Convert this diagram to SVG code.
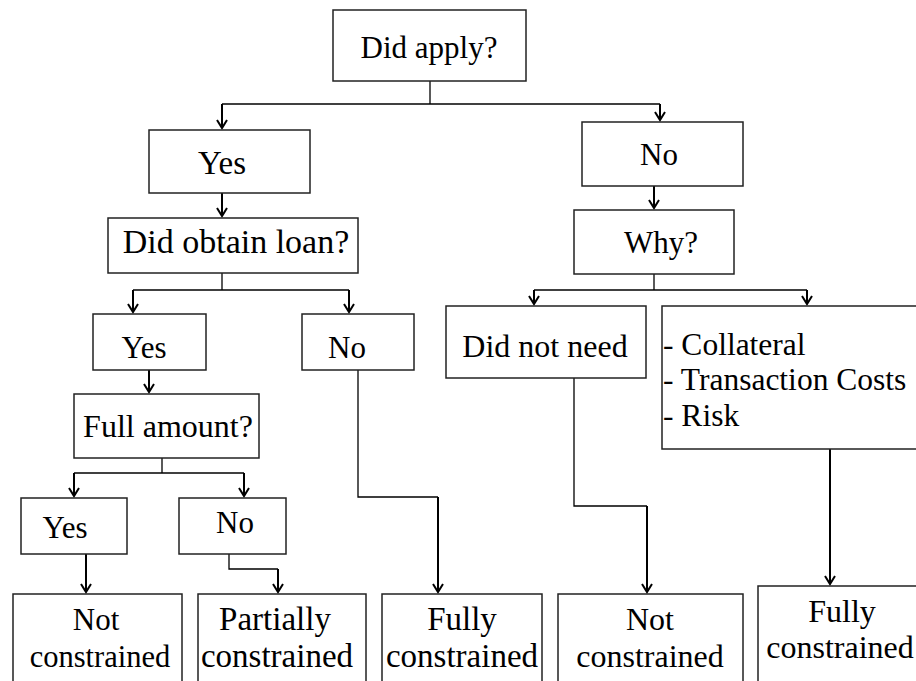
<svg xmlns="http://www.w3.org/2000/svg" width="916" height="681" viewBox="0 0 916 681">
<defs>
<marker id="ah" viewBox="0 0 12 12" refX="10" refY="6" markerWidth="12" markerHeight="12" markerUnits="userSpaceOnUse" orient="auto">
<path d="M2,1 L10,6 L2,11" fill="none" stroke="#000" stroke-width="2"/>
</marker>
<style>
.box{fill:#fff;stroke:#222;stroke-width:1.5}
.t{font-family:"Liberation Serif","Times New Roman",serif;font-size:31px;fill:#000;text-anchor:middle}
.ts{font-family:"Liberation Serif","Times New Roman",serif;font-size:31px;fill:#000}
.ln{fill:none;stroke:#000;stroke-width:1.3}
.ar{fill:none;stroke:#000;stroke-width:2;marker-end:url(#ah)}
</style>
</defs>
<rect width="916" height="681" fill="#fff"/>
<g id="connectors">
<polyline class="ln" points="430,81 430,104"/>
<polyline class="ln" points="222,104 660,104"/>
<polyline class="ar" points="222,104 222,128"/>
<polyline class="ar" points="660,104 660,120"/>
<polyline class="ar" points="222,193 222,216"/>
<polyline class="ln" points="222,273 222,290"/>
<polyline class="ln" points="133,290 349,290"/>
<polyline class="ar" points="133,290 133,312"/>
<polyline class="ar" points="349,290 349,312"/>
<polyline class="ar" points="149,370 149,392"/>
<polyline class="ln" points="162,458 162,473"/>
<polyline class="ln" points="74,473 244,473"/>
<polyline class="ar" points="74,473 74,496"/>
<polyline class="ar" points="244,473 244,496"/>
<polyline class="ar" points="86,554 86,592"/>
<polyline class="ln" points="229,554 229,569 278,569"/>
<polyline class="ar" points="278,569 278,592"/>
<polyline class="ln" points="358,370 358,497 438,497"/>
<polyline class="ar" points="438,497 438,592"/>
<polyline class="ar" points="654,186 654,208"/>
<polyline class="ln" points="654,274 654,290"/>
<polyline class="ln" points="534,290 807,290"/>
<polyline class="ar" points="534,290 534,304"/>
<polyline class="ar" points="807,290 807,304"/>
<polyline class="ln" points="574,378 574,506 647,506"/>
<polyline class="ar" points="647,506 647,592"/>
<polyline class="ar" points="830,449 830,584"/>
</g>
<g id="did-apply"><rect class="box" x="333" y="10" width="193" height="71"/><text class="t" x="429" y="58">Did apply?</text></g>
<g id="yes1"><rect class="box" x="149" y="130" width="161" height="63"/><text class="t" x="222" y="174" style="font-size:33px">Yes</text></g>
<g id="no1"><rect class="box" x="582" y="122" width="161" height="64"/><text class="t" x="659" y="165">No</text></g>
<g id="did-obtain"><rect class="box" x="108" y="218" width="250" height="55"/><text class="t" x="236" y="253" style="font-size:34px">Did obtain loan?</text></g>
<g id="why"><rect class="box" x="574" y="210" width="160" height="64"/><text class="t" x="661" y="253">Why?</text></g>
<g id="yes2"><rect class="box" x="93" y="314" width="113" height="56"/><text class="t" x="144" y="358">Yes</text></g>
<g id="no2"><rect class="box" x="302" y="314" width="112" height="56"/><text class="ts" x="328" y="358">No</text></g>
<g id="did-not-need"><rect class="box" x="446" y="306" width="200" height="72"/><text class="t" x="545" y="357" style="font-size:32px">Did not need</text></g>
<g id="reasons"><rect class="box" x="662" y="306" width="262" height="143"/><text class="ts" x="663" y="355" style="font-size:31.5px">- Collateral</text><text class="ts" x="663" y="390" style="font-size:31.5px">- Transaction Costs</text><text class="ts" x="663" y="426" style="font-size:31.5px">- Risk</text></g>
<g id="full-amount"><rect class="box" x="74" y="394" width="185" height="64"/><text class="t" x="168" y="437" style="font-size:32px">Full amount?</text></g>
<g id="yes3"><rect class="box" x="21" y="498" width="106" height="56"/><text class="t" x="65" y="538">Yes</text></g>
<g id="no3"><rect class="box" x="179" y="498" width="107" height="56"/><text class="t" x="235" y="533">No</text></g>
<g id="not-constrained-1"><rect class="box" x="13" y="594" width="169" height="100"/><text class="t" x="96" y="630" style="font-size:31px">Not</text><text class="t" x="100" y="667" style="font-size:30.5px">constrained</text></g>
<g id="partially-constrained"><rect class="box" x="198" y="594" width="168" height="100"/><text class="t" x="275" y="630" style="font-size:33px">Partially</text><text class="t" x="277" y="667" style="font-size:33px">constrained</text></g>
<g id="fully-constrained-1"><rect class="box" x="382" y="594" width="160" height="100"/><text class="t" x="462" y="630" style="font-size:33px">Fully</text><text class="t" x="462" y="667" style="font-size:33px">constrained</text></g>
<g id="not-constrained-2"><rect class="box" x="558" y="594" width="185" height="100"/><text class="t" x="650" y="630" style="font-size:32px">Not</text><text class="t" x="650" y="667" style="font-size:32px">constrained</text></g>
<g id="fully-constrained-2"><rect class="box" x="758" y="586" width="170" height="110"/><text class="t" x="842" y="622" style="font-size:32px">Fully</text><text class="t" x="840" y="658" style="font-size:32px">constrained</text></g>
</svg>
